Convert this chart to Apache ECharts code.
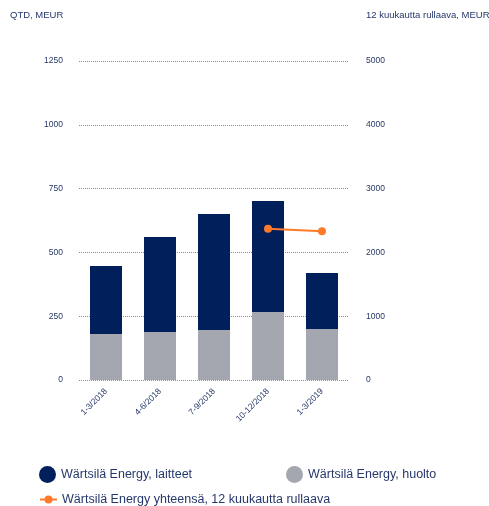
<!DOCTYPE html>
<html><head><meta charset="utf-8">
<script src="https://cdn.jsdelivr.net/npm/echarts@6/dist/echarts.min.js"></script>
<style>html,body{margin:0;padding:0;background:#fff}#c{width:489px;height:506px}</style>
</head><body><div id="c"></div>
<script>
const categories = ['1-3/2018','4-6/2018','7-9/2018','10-12/2018','1-3/2019'];
const huolto = [180, 188, 196, 266, 200];
const laitteet = [267, 372, 454, 435, 219];
const rolling = [null, null, null, 2370, 2330];
const leftTicks = [0, 1250, 250];
const rightTicks = [0, 5000, 1000];

const txt = '#26386b';
const font = 'Liberation Sans, Arial, sans-serif';
const chart = echarts.init(document.getElementById('c'));
chart.setOption({
  animation: false,
  textStyle: {fontFamily: font},
  grid: {left: 79, right: 140, top: 61, bottom: 126},
  graphic: [
    {type: 'text', left: 10, top: 10, style: {text: 'QTD, MEUR', fontSize: 9.5, fill: txt, fontFamily: font}},
    {type: 'text', left: 366, top: 10, style: {text: '12 kuukautta rullaava, MEUR', fontSize: 9.5, fill: txt, fontFamily: font}}
  ],
  xAxis: {
    type: 'category', data: categories,
    axisLine: {show: false}, axisTick: {show: false},
    axisLabel: {rotate: 45, fontSize: 8.5, color: txt, margin: 10, fontFamily: font}
  },
  yAxis: [
    {type: 'value', min: leftTicks[0], max: leftTicks[1], interval: leftTicks[2],
     axisLabel: {fontSize: 8.5, color: txt, margin: 16, fontFamily: font, formatter: v => String(v)},
     axisLine: {show: false}, axisTick: {show: false},
     splitLine: {lineStyle: {type: 'dotted', color: '#8a8d96', width: 1}}},
    {type: 'value', min: rightTicks[0], max: rightTicks[1], interval: rightTicks[2],
     axisLabel: {fontSize: 8.5, color: txt, margin: 17, fontFamily: font, formatter: v => String(v)},
     axisLine: {show: false}, axisTick: {show: false}, splitLine: {show: false}}
  ],
  legend: [
    {left: 34, top: 461, itemWidth: 17, itemHeight: 17, icon: 'circle',
     textStyle: {fontSize: 12.5, color: txt, fontFamily: font}, data: ['Wärtsilä Energy, laitteet']},
    {left: 281, top: 461, itemWidth: 17, itemHeight: 17, icon: 'circle',
     textStyle: {fontSize: 12.5, color: txt, fontFamily: font}, data: ['Wärtsilä Energy, huolto']},
    {left: 34, top: 488, itemWidth: 17, itemHeight: 10,
     textStyle: {fontSize: 12.5, color: txt, fontFamily: font}, data: ['Wärtsilä Energy yhteensä, 12 kuukautta rullaava']}
  ],
  series: [
    {name: 'Wärtsilä Energy, huolto', type: 'bar', stack: 's', data: huolto, barWidth: 32,
     itemStyle: {color: '#a4a7b0'}},
    {name: 'Wärtsilä Energy, laitteet', type: 'bar', stack: 's', data: laitteet, barWidth: 32,
     itemStyle: {color: '#001f5b'}},
    {name: 'Wärtsilä Energy yhteensä, 12 kuukautta rullaava', type: 'line', yAxisIndex: 1,
     data: rolling, symbol: 'circle', symbolSize: 8,
     lineStyle: {color: '#ff7a2a', width: 2}, itemStyle: {color: '#ff7a2a'}}
  ]
});
</script></body></html>
